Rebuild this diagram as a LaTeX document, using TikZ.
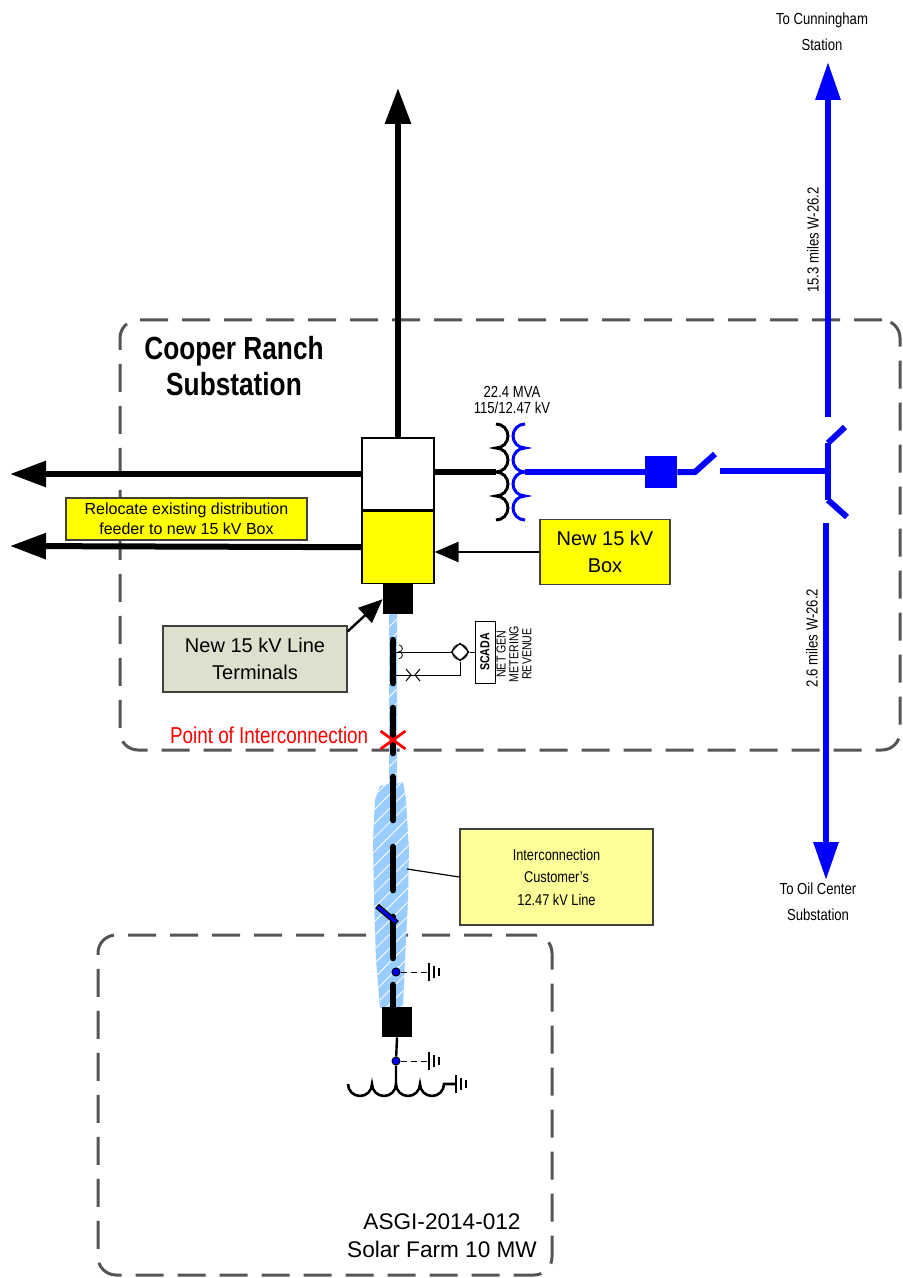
\documentclass[tikz,border=0pt]{standalone}
\usepackage{fontspec}
\setmainfont{Liberation Sans}
\newfontfamily\narrowfont[FakeStretch=0.82]{Liberation Sans}
\usetikzlibrary{
	arrows.meta,
	positioning,
	shapes.geometric,
	shapes.misc,
}
\definecolor{BoxYellow}{HTML}{FFFF00}
\definecolor{NoteYellow}{HTML}{FFFF99}
\definecolor{TermGray}{HTML}{DDE0CC}
\definecolor{LineBlue}{HTML}{0000FF}
\definecolor{BrushBlue}{HTML}{99CCFF}
\definecolor{FrameGray}{HTML}{555555}

\begin{document}
\begin{tikzpicture}[x=0.5pt,y=-0.5pt,
				zoneframe/.style={draw=FrameGray,line width=1.5pt,dash pattern=on 14pt off 7pt,rounded corners=9pt},
				bus/.style={line width=3pt},
				feeder/.style={line width=3pt,draw=LineBlue},
				bighead/.style={-{Triangle[length=18pt,width=12.5pt]}},
				smallhead/.style={-{Triangle[length=12pt,width=10pt]}},
				cell/.style={draw,line width=0.6pt,minimum width=36pt,minimum height=36pt,inner sep=0pt},
				note/.style={draw=black!75,line width=0.6pt,align=center,inner sep=0pt},
				lbl/.style={font=\narrowfont\fontsize{8}{13}\selectfont,align=center,inner sep=0pt},
				busdot/.style={circle,fill=LineBlue,draw=black,line width=0.5pt,inner sep=0pt,minimum size=4pt},
			]
			\useasboundingbox (0,0) rectangle (903,1278);

			% zones
			\node (substation) [zoneframe,minimum width=390pt,minimum height=215pt] at (510,535) {};
			\node (solar) [zoneframe,minimum width=227pt,minimum height=170pt] at (325,1105) {};
			\node (subname) [font=\narrowfont\bfseries\fontsize{16}{18}\selectfont,align=center] at (234,366) {Cooper Ranch\\Substation};
			\node (solarname) [font=\fontsize{11.3}{14}\selectfont,align=center] at (442,1236) {ASGI-2014-012\\Solar Farm 10 MW};

			% customer line
			\begin{scope}
				\clip (389,614) -- (397,614) -- (397,784) -- (403,781) -- (406,800) -- (409,850) -- (408,900) -- (405,960) -- (403,1008)
					-- (380,1008) -- (376,960) -- (374,900) -- (373,840) -- (375,800) -- (380,786) -- (389,784) -- cycle;
				\fill[BrushBlue] (360,600) rectangle (420,1020);
				\foreach \k in {600,614,...,1080} \draw[white,line width=0.5pt] (360,\k) -- ++(60,-60);
			\end{scope}

			% 15 kV box
			\node (whitebox) [cell,fill=white] at (398,474) {};
			\node (yellowbox) [cell,fill=BoxYellow,below=0pt of whitebox] {};
			\node (term) [fill=black,minimum size=15pt,inner sep=0pt,below=0pt of yellowbox] {};

			\coordinate (northtip) at (398,88);
			\coordinate (westtip1) at (10,474);
			\coordinate (westtip2) at (10,546);
			\draw[bus,bighead] (whitebox.north) -- (northtip);
			\draw[bus,bighead] (whitebox.west) -- (westtip1);
			\draw[bus,bighead] (yellowbox.west) -- (westtip2);

			% transformer
			\coordinate (hv) at (496,472);
			\coordinate (lv) at (525,472);
			\draw[line width=1.5pt] (496,424) arc[start angle=90,end angle=-90,radius=6pt] arc[start angle=90,end angle=-90,radius=6pt]
				arc[start angle=90,end angle=-90,radius=6pt] arc[start angle=90,end angle=-90,radius=6pt];
			\draw[line width=1.5pt,LineBlue] (525,424) arc[start angle=90,end angle=270,radius=6pt] arc[start angle=90,end angle=270,radius=6pt]
				arc[start angle=90,end angle=270,radius=6pt] arc[start angle=90,end angle=270,radius=6pt];
			\draw[bus] (whitebox.east |- hv) -- (hv);
			\node (xfmrlbl) [lbl,font=\narrowfont\fontsize{8}{8.2}\selectfont] at (512,400) {22.4 MVA\\115/12.47 kV};

			% 115 kV side
			\node (breaker) [fill=LineBlue,minimum size=16pt,inner sep=0pt] at (661,472) {};
			\coordinate (swa) at (695,472);
			\coordinate (swb) at (715,454);
			\coordinate (swc) at (720,471);
			\coordinate (junc) at (828,471);
			\coordinate (jtop) at (828,443);
			\coordinate (jbot) at (828,500);
			\coordinate (cunfeed) at (828,417);
			\coordinate (cuntip) at (828,62);
			\coordinate (oilfeed) at (826,523);
			\coordinate (oiltip) at (826,880);
			\draw[feeder] (lv) -- (breaker.west);
			\draw[feeder] (breaker.east) -- (swa) -- (swb);
			\draw[feeder] (swc) -- (junc);
			\draw[feeder] (jtop) -- (jbot);
			\draw[feeder] (jtop) -- (845,427);
			\draw[feeder] (jbot) -- (847,517);
			\draw[feeder,-{Triangle[length=19pt,width=12pt]}] (cunfeed) -- (cuntip);
			\draw[feeder,-{Triangle[length=19pt,width=12pt]}] (oilfeed) -- (oiltip);
			\node (cunlbl) [lbl,above=5.5pt of cuntip,xshift=-3pt] {To Cunningham\\Station};
			\node (oillbl) [lbl,below=1pt of oiltip,xshift=-4pt] {To Oil Center\\Substation};
			\node (miles1) [lbl,rotate=90] at (813,240) {15.3 miles W-26.2};
			\node (miles2) [lbl,rotate=90] at (812,638) {2.6 miles W-26.2};

			% call-outs
			\node (relocate) [note,fill=BoxYellow,minimum width=120.5pt,minimum height=21pt,font=\fontsize{8}{9.75}\selectfont] at (186.5,519) {Relocate existing distribution\\feeder to new 15 kV Box};
			\node (newbox) [note,fill=BoxYellow,minimum width=65pt,minimum height=32.5pt,font=\fontsize{10}{13.5}\selectfont] at (605,552) {New 15 kV\\Box};
			\node (termbox) [note,fill=TermGray,minimum width=92pt,minimum height=33pt,font=\fontsize{10}{13.5}\selectfont] at (255,659) {New 15 kV Line\\Terminals};
			\node (icbox) [note,fill=NoteYellow,minimum width=96.5pt,minimum height=48pt,font=\narrowfont\fontsize{7.8}{11.25}\selectfont] at (556.5,877) {Interconnection\\Customer’s\\12.47 kV Line};
			\draw[line width=1.2pt,smallhead] (newbox.west) -- (newbox.west -| yellowbox.east);
			\draw[line width=1.2pt,smallhead] ([yshift=-3pt]termbox.north east) -- (term.west);
			\coordinate (brushpt) at (407,869);
			\draw[line width=0.6pt] (brushpt) -- (icbox.west);

			% metering
			\node (meter) [diamond,draw,line width=0.5pt,aspect=1,minimum width=9pt,minimum height=9pt,inner sep=0pt] at (460,652) {};
			\draw[line width=0.5pt] (meter) circle[radius=3.8pt];
			\node (scada) [draw,line width=0.5pt,rotate=90,minimum width=31pt,minimum height=10pt,inner sep=0pt,font=\narrowfont\bfseries\fontsize{6.5}{7}\selectfont] at (485,652) {SCADA};
			\node (meterlbl) [rotate=90,align=center,inner sep=0pt,font=\narrowfont\fontsize{6.5}{6.4}\selectfont] at (514,654) {NET GEN\\METERING\\REVENUE};
			\coordinate (ctap1) at (393,652);
			\coordinate (ctap2) at (393,675);
			\draw[line width=0.5pt] (ctap1) -- (meter.west);
			\draw[line width=0.5pt] (ctap2) -- (ctap2 -| meter.south) -- (meter.south);
			\draw[line width=0.5pt] (meter.east) -- (scada.north);
			\draw[line width=0.4pt] (399,645) arc[start angle=90,end angle=-90,radius=1.7pt] arc[start angle=90,end angle=-90,radius=1.7pt];
			\draw[line width=0.5pt] (406,669) -- (411,675) -- (406,681) (420,669) -- (415,675) -- (420,681);

			% bus conductor
			\foreach \ya/\yb in {640/683,708/753,777/820,847/890,917/958,985/1008}
				\draw[line width=3.3pt,line cap=round] (393,\ya) -- (393,\yb);
			\draw[line width=2.8pt] (377,906) -- (397,923);
			\draw[line width=1.5pt,LineBlue] (378,907) -- (396,922);

			\node (poix) [cross out,draw=red,line width=1.4pt,minimum width=11pt,minimum height=7.5pt,inner sep=0pt] at (393,740) {};
			\node (poilbl) [font=\narrowfont\fontsize{11.5}{13}\selectfont,text=red,inner sep=0pt,left=6pt of poix,yshift=2.5pt] {Point of Interconnection};

			% solar farm
			\node (solarbrk) [fill=black,minimum size=15pt,inner sep=0pt] at (397,1022) {};
			\node (gnd1) [busdot] at (396,972) {};
			\node (gnd2) [busdot] at (396,1061) {};
			\coordinate (gencoil) at (396,1084);
			\draw[line width=1.2pt] (solarbrk.south) -- (gnd2) -- (gencoil);
			\draw[line width=1.3pt] (348,1084) arc[start angle=180,end angle=360,radius=6pt] arc[start angle=180,end angle=360,radius=6pt]
				arc[start angle=180,end angle=360,radius=6pt] arc[start angle=180,end angle=360,radius=6pt] -- (456,1084);
			\draw[line width=0.5pt,dash pattern=on 3pt off 2pt] (gnd1) -- (429,972);
			\draw[line width=0.5pt,dash pattern=on 3pt off 2pt] (gnd2) -- (429,1061);
			\foreach \gx/\gy in {429/972,429/1061,456/1084}
				\draw[line width=0.7pt] (\gx,\gy-9) -- (\gx,\gy+9) (\gx+5,\gy-6) -- (\gx+5,\gy+6) (\gx+10,\gy-4) -- (\gx+10,\gy+4);
		\end{tikzpicture}
\end{document}
